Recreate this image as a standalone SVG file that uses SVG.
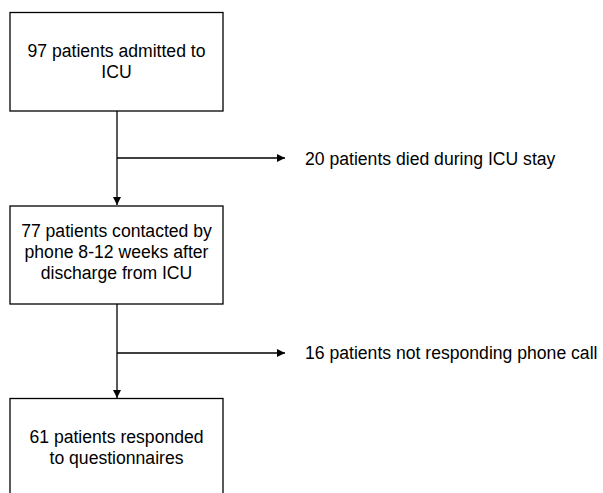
<svg xmlns="http://www.w3.org/2000/svg" width="603" height="493" viewBox="0 0 603 493">
<style>
.box{fill:#fff;stroke:#000;stroke-width:1.3}
.t{font-family:"Liberation Sans",Arial,sans-serif;font-size:17.6px;fill:#000}
.c{text-anchor:middle}
.ln{stroke:#000;stroke-width:1.3;fill:none}
</style>
<defs>
<marker id="ah" viewBox="0 0 10 10" refX="10" refY="5" markerWidth="8" markerHeight="8" markerUnits="userSpaceOnUse" orient="auto">
<path d="M0,0 L10,5 L0,10 z" fill="#000"/>
</marker>
</defs>
<rect width="603" height="493" fill="#fff"/>
<g id="connectors">
<path class="ln" d="M117,111 V205" marker-end="url(#ah)"/>
<path class="ln" d="M117,158 H285" marker-end="url(#ah)"/>
<path class="ln" d="M117,304 V398" marker-end="url(#ah)"/>
<path class="ln" d="M117,353 H285" marker-end="url(#ah)"/>
</g>
<g id="n1">
<rect class="box" x="10" y="12.5" width="213" height="98.5"/>
<text class="t c" x="116.5" y="57">97 patients admitted to</text>
<text class="t c" x="116.5" y="78">ICU</text>
</g>
<g id="n2">
<rect class="box" x="10" y="206" width="213" height="98"/>
<text class="t c" x="116.5" y="237">77 patients contacted by</text>
<text class="t c" x="116.5" y="258">phone 8-12 weeks after</text>
<text class="t c" x="116.5" y="279">discharge from ICU</text>
</g>
<g id="n3">
<rect class="box" x="10" y="398.5" width="213" height="100"/>
<text class="t c" x="116.5" y="443">61 patients responded</text>
<text class="t c" x="116.5" y="464">to questionnaires</text>
</g>
<g id="n4">
<text class="t" x="305" y="165">20 patients died during ICU stay</text>
</g>
<g id="n5">
<text class="t" x="305" y="359">16 patients not responding phone call</text>
</g>
</svg>
